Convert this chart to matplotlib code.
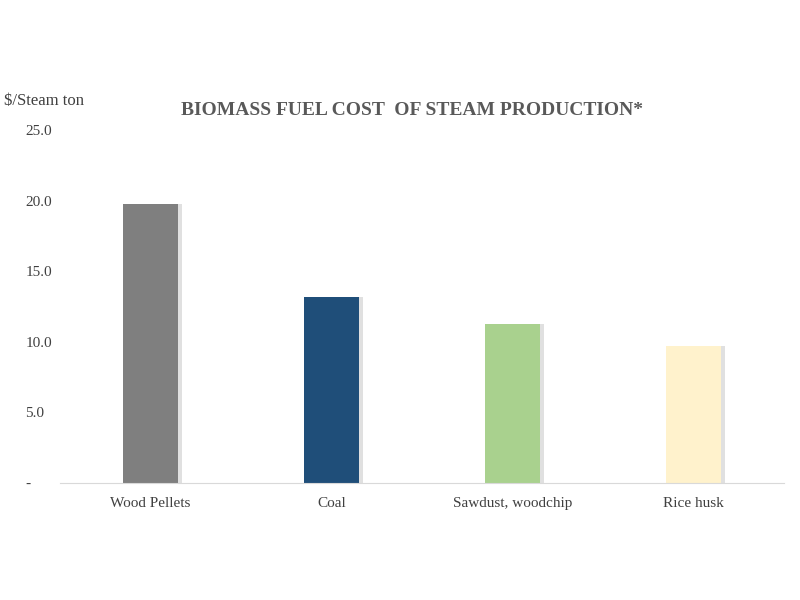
import matplotlib
matplotlib.use("Agg")
import matplotlib.pyplot as plt

categories = ["Wood Pellets", "Coal", "Sawdust, woodchip", "Rice husk"]
values = [19.8, 13.2, 11.3, 9.7]
colors = ["#7f7f7f", "#1f4e79", "#a9d18e", "#fff2cc"]
yticks = [0, 5, 10, 15, 20, 25]
ytick_labels = ["-", "5.0", "10.0", "15.0", "20.0", "25.0"]

plt.rcParams['font.family'] = ['Liberation Serif', 'DejaVu Serif']
fig = plt.figure(figsize=(8, 6), dpi=100)
ax = fig.add_axes([0.075, 0.195, 0.905, 0.588])
x = list(range(len(categories)))
# soft shadow
ax.bar([i + 0.025 for i in x], values, width=0.3, color="#000000", alpha=0.12, zorder=1)
ax.bar(x, values, width=0.3, color=colors, zorder=2)
ax.set_ylim(0, 25)
ax.set_xlim(-0.5, 3.5)
ax.set_yticks(yticks)
ax.set_yticklabels(ytick_labels, fontsize=11, color="#404040")
ax.set_xticks(x)
ax.set_xticklabels(categories, fontsize=11, color="#404040")
ax.tick_params(length=0, pad=10)
ax.tick_params(axis='y', pad=25)
for s in ["top", "right", "left"]:
    ax.spines[s].set_visible(False)
ax.spines["bottom"].set_color("#d9d9d9")
for lab in ax.get_yticklabels():
    lab.set_horizontalalignment("left")
fig.text(0.005, 0.825, "$/Steam ton", fontsize=12, color="#404040")
fig.text(0.515, 0.808, "BIOMASS FUEL COST  OF STEAM PRODUCTION*", fontsize=14,
         fontweight="bold", color="#595959", ha="center")
fig.savefig("out.png", dpi=100)
